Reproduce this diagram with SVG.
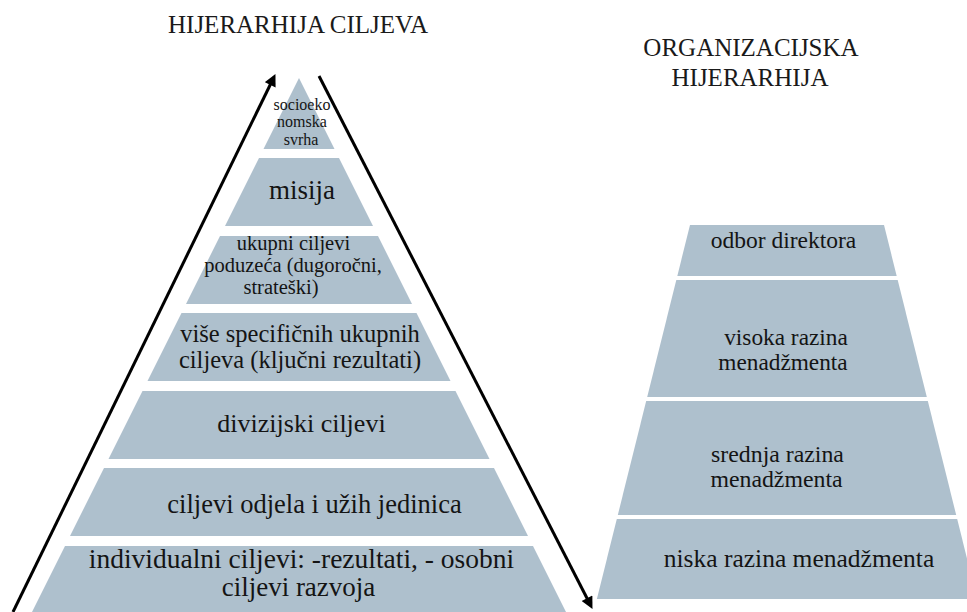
<svg xmlns="http://www.w3.org/2000/svg" width="967" height="612" viewBox="0 0 967 612">
<defs>
<style>
.band{fill:#aec0cd;}
.t{font-family:"Liberation Serif","Times New Roman",serif;fill:#141414;text-anchor:middle;}
.h{font-family:"Liberation Serif","Times New Roman",serif;font-size:25px;fill:#1a1a1a;text-anchor:middle;}
.arr{stroke:#000;stroke-width:3;fill:none;marker-end:url(#ah);}
</style>
<marker id="ah" viewBox="0 0 10 10" refX="4" refY="5" markerWidth="14" markerHeight="12" markerUnits="userSpaceOnUse" orient="auto">
<path d="M0,0 L10,5 L0,10 z" fill="#000"/>
</marker>
</defs>
<rect width="967" height="612" fill="#fff"/>
<text class="h" x="298" y="33">HIJERARHIJA CILJEVA</text>
<text class="h" x="751" y="56">ORGANIZACIJSKA</text>
<text class="h" x="750" y="86">HIJERARHIJA</text>

<g id="goal-1">
<polygon class="band" points="299,78 334.5,149 263.5,149"/>
<text class="t" font-size="16" x="302" y="110">socioeko</text>
<text class="t" font-size="16" x="302" y="127">nomska</text>
<text class="t" font-size="16" x="301" y="145">svrha</text>
</g>
<g id="goal-2">
<polygon class="band" points="259,158 339,158 373,226 225,226"/>
<text class="t" font-size="27" x="302" y="199">misija</text>
</g>
<g id="goal-3">
<polygon class="band" points="220,236 378,236 412,304 186,304"/>
<text class="t" font-size="20.5" x="293.5" y="250">ukupni ciljevi</text>
<text class="t" font-size="20.5" x="293" y="272">poduzeća (dugoročni,</text>
<text class="t" font-size="20.5" x="281" y="294">strateški)</text>
</g>
<g id="goal-4">
<polygon class="band" points="181.5,313 416.5,313 450.5,381 147.5,381"/>
<text class="t" font-size="24.5" x="300" y="342">više specifičnih ukupnih</text>
<text class="t" font-size="24.5" x="300" y="368">ciljeva (ključni rezultati)</text>
</g>
<g id="goal-5">
<polygon class="band" points="142.5,391 455.5,391 489.5,459 108.5,459"/>
<text class="t" font-size="26" x="301.5" y="432">divizijski ciljevi</text>
</g>
<g id="goal-6">
<polygon class="band" points="104,468 494,468 528,536 70,536"/>
<text class="t" font-size="26.5" x="314.5" y="513">ciljevi odjela i užih jedinica</text>
</g>
<g id="goal-7">
<polygon class="band" points="65,546 533,546 567,614 31,614"/>
<text class="t" font-size="27.5" x="301.5" y="568">individualni ciljevi: -rezultati, - osobni</text>
<text class="t" font-size="27" x="298.5" y="596">ciljevi razvoja</text>
</g>

<g id="org-1">
<polygon class="band" points="690,225 884,225 896.7,276 677.3,276"/>
<text class="t" font-size="23.5" x="783.5" y="248">odbor direktora</text>
</g>
<g id="org-2">
<polygon class="band" points="676.3,280 897.7,280 926.8,397 647.2,397"/>
<text class="t" font-size="23.3" x="786" y="345">visoka razina</text>
<text class="t" font-size="23.3" x="783" y="370">menadžmenta</text>
</g>
<g id="org-3">
<polygon class="band" points="646.2,401 927.8,401 956.2,515 617.8,515"/>
<text class="t" font-size="23.8" x="777.5" y="462">srednja razina</text>
<text class="t" font-size="23.8" x="776.5" y="487">menadžmenta</text>
</g>
<g id="org-4">
<polygon class="band" points="616.8,519 957.2,519 977.1,599 596.9,599"/>
<text class="t" font-size="25.5" x="799" y="567">niska razina menadžmenta</text>
</g>

<g id="connectors">
<line class="arr" x1="13" y1="612" x2="272.3" y2="80.5"/>
<line class="arr" x1="319" y1="76" x2="589.2" y2="602.5"/>
</g>
</svg>
